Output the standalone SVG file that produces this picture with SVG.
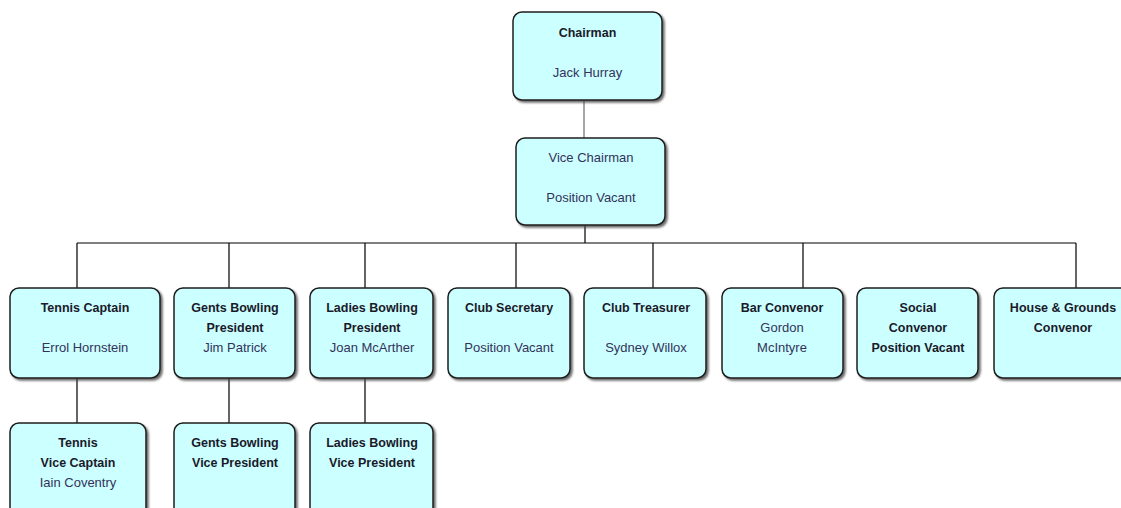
<svg xmlns="http://www.w3.org/2000/svg" width="1121" height="508" viewBox="0 0 1121 508">
<style>
.box{fill:#ccffff;stroke:#1e1e1e;stroke-width:1.5;filter:url(#sh)}
.t{font-family:"Liberation Sans",Arial,sans-serif;font-size:13px;text-anchor:middle}
.b{font-weight:bold;fill:#1a1a2a;font-size:12.5px}
.n{fill:#33335a}
.c{stroke:#000;stroke-width:1.2;fill:none}
</style>
<defs>
<filter id="sh" x="-10%" y="-10%" width="130%" height="130%">
<feDropShadow dx="2" dy="2" stdDeviation="1.2" flood-color="#444" flood-opacity="0.8"/>
</filter>
</defs>
<rect width="1121" height="508" fill="#fff"/>
<g id="connectors">
<line x1="584" y1="100" x2="584" y2="138" stroke="#888" stroke-width="1.5"/>
<path class="c" d="M585 225V243M77 243H1076M77 243V288M229 243V288M365 243V288M516 243V288M653 243V288M803 243V288M1076 243V288"/>
<path class="c" d="M77 378V423M229 378V423M365 378V423"/>
</g>
<g id="chairman"><rect class="box" x="513" y="12" width="149" height="88" rx="9"/>
<text class="t b" x="587.5" y="37">Chairman</text><text class="t n" x="587.5" y="77">Jack Hurray</text></g>
<g id="vice-chairman"><rect class="box" x="516" y="138" width="149" height="87" rx="9"/>
<text class="t n" x="591" y="162">Vice Chairman</text><text class="t n" x="591" y="202">Position Vacant</text></g>
<g id="tennis-captain"><rect class="box" x="10" y="288" width="150" height="90" rx="9"/>
<text class="t b" x="85" y="312">Tennis Captain</text><text class="t n" x="85" y="352">Errol Hornstein</text></g>
<g id="gents-president"><rect class="box" x="174" y="288" width="121" height="90" rx="9"/>
<text class="t b" x="235" y="312">Gents Bowling</text><text class="t b" x="235" y="332">President</text><text class="t n" x="235" y="352">Jim Patrick</text></g>
<g id="ladies-president"><rect class="box" x="310" y="288" width="123" height="90" rx="9"/>
<text class="t b" x="372" y="312">Ladies Bowling</text><text class="t b" x="372" y="332">President</text><text class="t n" x="372" y="352">Joan McArther</text></g>
<g id="club-secretary"><rect class="box" x="448" y="288" width="122" height="90" rx="9"/>
<text class="t b" x="509" y="312">Club Secretary</text><text class="t n" x="509" y="352">Position Vacant</text></g>
<g id="club-treasurer"><rect class="box" x="584" y="288" width="122" height="90" rx="9"/>
<text class="t b" x="646" y="312">Club Treasurer</text><text class="t n" x="646" y="352">Sydney Willox</text></g>
<g id="bar-convenor"><rect class="box" x="722" y="288" width="121" height="90" rx="9"/>
<text class="t b" x="782" y="312">Bar Convenor</text><text class="t n" x="782" y="332">Gordon</text><text class="t n" x="782" y="352">McIntyre</text></g>
<g id="social-convenor"><rect class="box" x="857" y="288" width="121" height="90" rx="9"/>
<text class="t b" x="918" y="312">Social</text><text class="t b" x="918" y="332">Convenor</text><text class="t b" x="918" y="352">Position Vacant</text></g>
<g id="house-grounds"><rect class="box" x="994" y="288" width="138" height="90" rx="9"/>
<text class="t b" x="1063" y="312">House &amp; Grounds</text><text class="t b" x="1063" y="332">Convenor</text></g>
<g id="tennis-vice"><rect class="box" x="10" y="423" width="136" height="95" rx="9"/>
<text class="t b" x="78" y="447">Tennis</text><text class="t b" x="78" y="467">Vice Captain</text><text class="t n" x="78" y="487">Iain Coventry</text></g>
<g id="gents-vice"><rect class="box" x="174" y="423" width="121" height="95" rx="9"/>
<text class="t b" x="235" y="447">Gents Bowling</text><text class="t b" x="235" y="467">Vice President</text></g>
<g id="ladies-vice"><rect class="box" x="310" y="423" width="123" height="95" rx="9"/>
<text class="t b" x="372" y="447">Ladies Bowling</text><text class="t b" x="372" y="467">Vice President</text></g>
</svg>
